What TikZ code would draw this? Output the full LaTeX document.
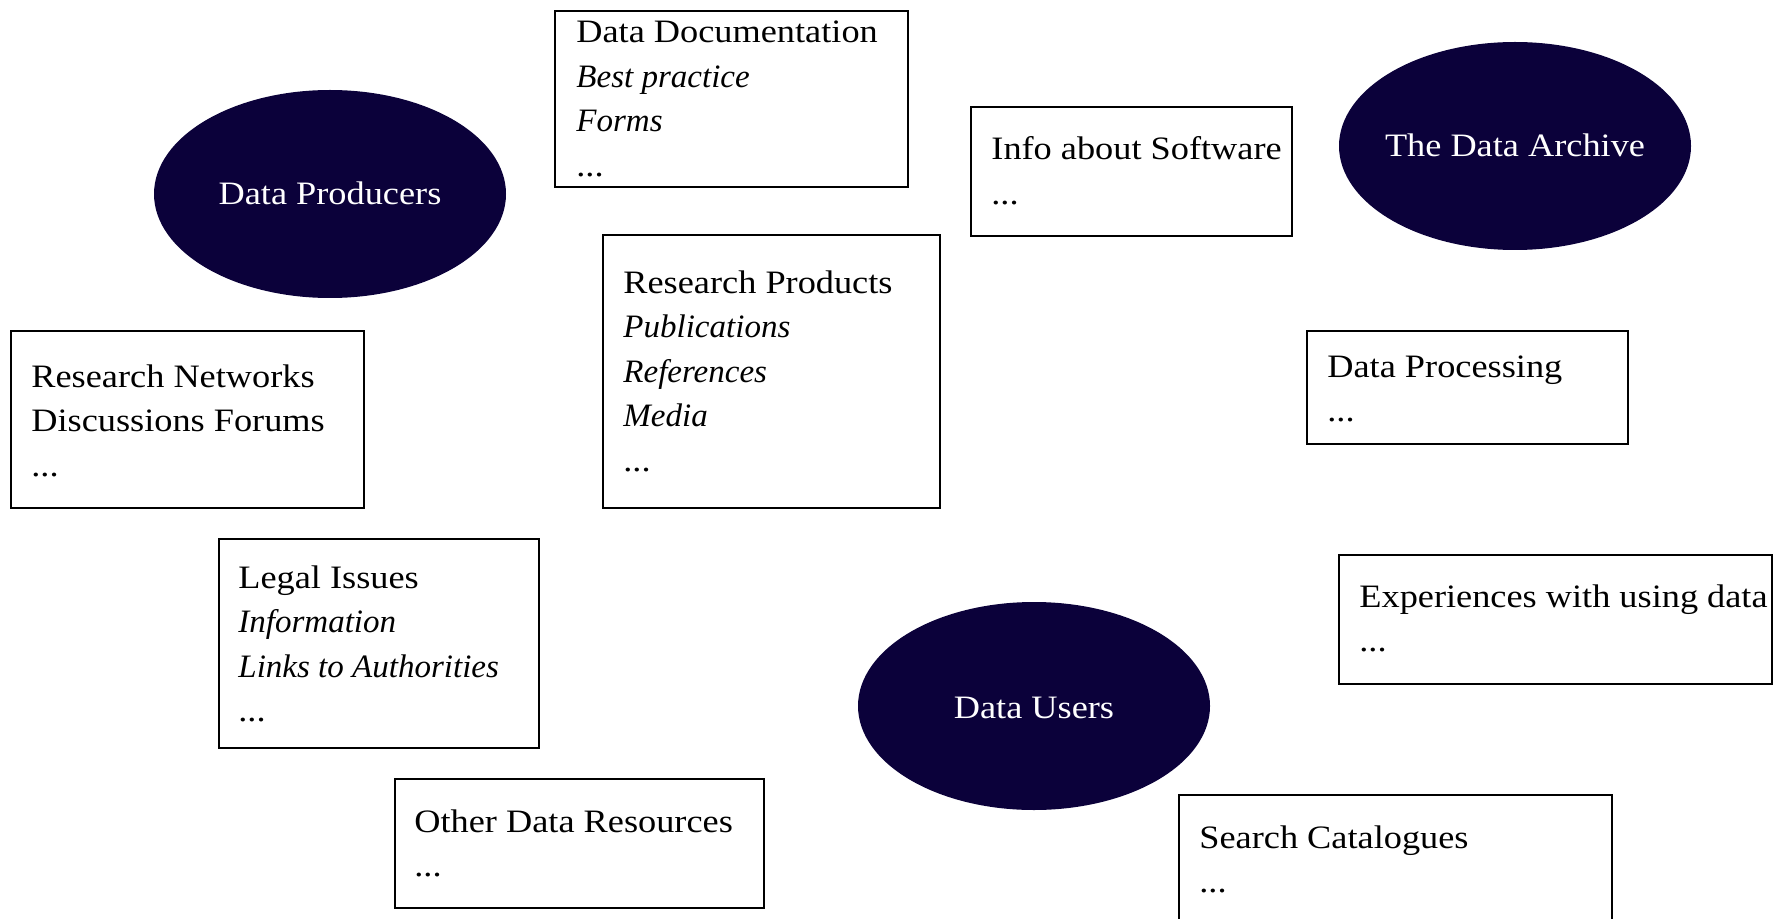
\documentclass[tikz,border=0pt]{standalone}
\usepackage{fontspec}
\setmainfont[FakeStretch=1.11,ItalicFeatures={FakeStretch=1.01}]{Liberation Serif}
\usetikzlibrary{shapes.geometric}
\definecolor{navy}{RGB}{11,1,58}
\begin{document}
\begin{tikzpicture}[x=0.5pt,y=-0.5pt,
  boxnode/.style={draw=black, line width=1pt, anchor=north west, inner sep=0pt},
  boxtext/.style={anchor=base west, inner sep=0pt, font=\fontsize{16.35}{22.25}\selectfont},
  blob/.style={ellipse, fill=navy, draw=none, inner sep=0pt, minimum width=176pt, minimum height=104pt},
  blobtext/.style={anchor=base, inner sep=0pt, text=white, font=\fontsize{16.35}{22.25}\selectfont}]
\clip (0,0) rectangle (1780,919);
\fill[white] (0,0) rectangle (1780,919);

% ellipses
\node[blob] (prod) at (330,194) {};
\node[blobtext] (prodt) at (330,205) {Data Producers};
\node[blob] (arch) at (1515,146) {};
\node[blobtext] (archt) at (1515,157) {The Data Archive};
\node[blob] (users) at (1034,706) {};
\node[blobtext] (userst) at (1034,718) {Data Users};

% boxes
\node[boxnode, minimum width=176.5pt, minimum height=88pt] (doc) at (554,10) {};
\node[boxtext] (doct) at (576,43) {\begin{tabular}[t]{@{}l@{}}Data Documentation\\ \textit{Best practice}\\ \textit{Forms}\\ ...\end{tabular}};

\node[boxnode, minimum width=160.5pt, minimum height=64.5pt] (soft) at (970,106) {};
\node[boxtext] (softt) at (991,160) {\begin{tabular}[t]{@{}l@{}}Info about Software\\ ...\end{tabular}};

\node[boxnode, minimum width=168.5pt, minimum height=136.5pt] (prods) at (602,234) {};
\node[boxtext] (prodst) at (623,293) {\begin{tabular}[t]{@{}l@{}}Research Products\\ \textit{Publications}\\ \textit{References}\\ \textit{Media}\\ ...\end{tabular}};

\node[boxnode, minimum width=176.5pt, minimum height=88.5pt] (net) at (10,330) {};
\node[boxtext] (nett) at (31,387) {\begin{tabular}[t]{@{}l@{}}Research Networks\\ Discussions Forums\\ ...\end{tabular}};

\node[boxnode, minimum width=160.5pt, minimum height=56.5pt] (proc) at (1306,330) {};
\node[boxtext] (proct) at (1327,377) {\begin{tabular}[t]{@{}l@{}}Data Processing\\ ...\end{tabular}};

\node[boxnode, minimum width=160pt, minimum height=104.5pt] (legal) at (218,538) {};
\node[boxtext] (legalt) at (238,588) {\begin{tabular}[t]{@{}l@{}}Legal Issues\\ \textit{Information}\\ \textit{Links to Authorities}\\ ...\end{tabular}};

\node[boxnode, minimum width=216.5pt, minimum height=64.5pt] (exp) at (1338,554) {};
\node[boxtext] (expt) at (1359,607) {\begin{tabular}[t]{@{}l@{}}Experiences with using data\\ ...\end{tabular}};

\node[boxnode, minimum width=184.5pt, minimum height=64.5pt] (other) at (394,778) {};
\node[boxtext] (othert) at (414,832) {\begin{tabular}[t]{@{}l@{}}Other Data Resources\\ ...\end{tabular}};

\node[boxnode, minimum width=216.5pt, minimum height=72pt] (search) at (1178,794) {};
\node[boxtext] (searcht) at (1199,848) {\begin{tabular}[t]{@{}l@{}}Search Catalogues\\ ...\end{tabular}};
\end{tikzpicture}
\end{document}
